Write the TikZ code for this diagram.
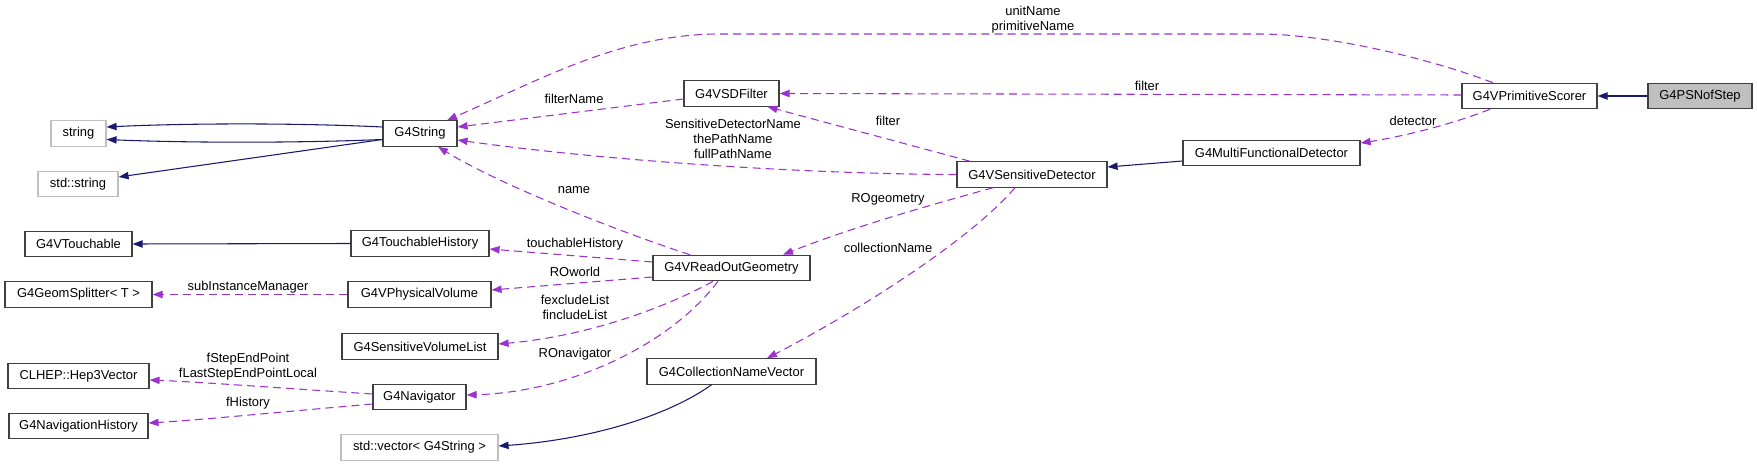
\documentclass[tikz,border=0pt]{standalone}
\usepackage{fontspec}
\setmainfont{Liberation Sans}
\usepackage{tikz}
\usetikzlibrary{arrows.meta, positioning, calc}
\definecolor{usecol}{HTML}{9A32CD}
\definecolor{inhcol}{HTML}{191970}
\definecolor{extcol}{HTML}{BFBFBF}
\definecolor{boxcol}{HTML}{404040}
\tikzset{
  cls/.style={draw=boxcol, line width=0.9pt, fill=white, inner sep=0pt,
    minimum height=19pt, font=\fontsize{9.7}{11.6}\selectfont},
  extcls/.style={cls, draw=extcol},
  selfcls/.style={cls, fill=extcol},
  lbl/.style={inner sep=0pt, align=center, font=\fontsize{9.7}{11.2}\selectfont},
  usage/.style={draw=usecol, line width=0.8pt, dash pattern=on 6pt off 3.8pt,
    -{Triangle[length=7.5pt, width=5.5pt, fill=usecol]}},
  inherit/.style={draw=inhcol, line width=0.8pt,
    -{Triangle[length=7.5pt, width=5.5pt, fill=inhcol]}}
}
\begin{document}
\begin{tikzpicture}[x=0.75pt, y=-0.75pt]
        \useasboundingbox (0,0) rectangle (1757,467);

        % ── LEFT COLUMN ────────────────────────────
        \node[extcls, minimum width=41.25pt] (string) at (78.5,133.5) {string};
        \node[extcls, minimum width=60pt] (stdstring) at (78,184) {std::string};
        \node[cls, minimum width=80.25pt] (touch) at (78.5,244) {G4VTouchable};
        \node[cls, minimum width=110.25pt] (splitter) at (78.5,294.5) {G4GeomSplitter< T >};
        \node[cls, minimum width=105.75pt] (hep) at (78.5,376) {CLHEP::Hep3Vector};
        \node[cls, minimum width=104.25pt] (navhist) at (78.5,426) {G4NavigationHistory};

        % ── SECOND COLUMN ──────────────────────────
        \node[cls, minimum width=55.5pt] (g4string) at (420,133.5) {G4String};
        \node[cls, minimum width=103.5pt] (touchhist) at (420,243.5) {G4TouchableHistory};
        \node[cls, minimum width=107.25pt] (physvol) at (419.5,294.5) {G4VPhysicalVolume};
        \node[cls, minimum width=117pt] (svlist) at (420,346.5) {G4SensitiveVolumeList};
        \node[cls, minimum width=69.75pt] (navigator) at (419.5,397) {G4Navigator};
        \node[extcls, minimum width=117.75pt] (stdvector) at (419.5,447.5) {std::vector< G4String >};

        % ── THIRD COLUMN ───────────────────────────
        \node[cls, minimum width=71.25pt] (sdfilter) at (731.5,93.5) {G4VSDFilter};
        \node[cls, minimum width=117.75pt] (rogeom) at (731.5,268) {G4VReadOutGeometry};
        \node[cls, minimum width=126.75pt] (cnvector) at (731.5,371.5) {G4CollectionNameVector};

        % ── RIGHT PART ─────────────────────────────
        \node[cls, minimum width=112.5pt] (sensdet) at (1032,174.5) {G4VSensitiveDetector};
        \node[cls, minimum width=132.75pt] (multidet) at (1271.5,153) {G4MultiFunctionalDetector};
        \node[cls, minimum width=101.25pt] (primscorer) at (1529.5,96) {G4VPrimitiveScorer};
        \node[selfcls, minimum width=78pt] (nofstep) at (1700,96) {G4PSNofStep};

        % ── INHERITANCE ────────────────────────────
        \draw[inherit] ($(g4string.west)+(0,-6.5)$) .. controls (300,123) and (190,123)
          .. ($(string.east)+(0,-6.5)$);
        \draw[inherit] ($(g4string.west)+(0,6)$) .. controls (300,143) and (190,143)
          .. ($(string.east)+(0,6)$);
        \draw[inherit] ($(g4string.west)+(0,6)$) -- ($(stdstring.east)+(0,-7)$);
        \draw[inherit] (touchhist.west) -- (touch.east);
        \draw[inherit] ($(cnvector.south)+(-20,0)$) .. controls (665,418) and (585,440)
          .. ($(stdvector.east)+(0,-1.5)$);
        \draw[inherit] ($(multidet.west)+(0,8)$) -- ($(sensdet.east)+(0,-7.5)$);
        \draw[inherit] (nofstep.west) -- (primscorer.east);

        % ── USAGE ──────────────────────────────────
        \draw[usage] (physvol.west) -- (splitter.east);
        \node[lbl] (l-subinst) at (248,287) {subInstanceManager};

        \draw[usage] ($(navigator.west)+(0,-3)$) .. controls (280,388) and (200,382)
          .. ($(hep.east)+(0,4)$);
        \node[lbl] (l-step) at (248,366.5) {fStepEndPoint\\fLastStepEndPointLocal};
        \draw[usage] ($(navigator.west)+(0,7)$) .. controls (280,412) and (200,420)
          .. ($(navhist.east)+(0,-3)$);
        \node[lbl] (l-hist) at (248,403) {fHistory};

        \draw[usage] ($(sdfilter.west)+(0,5.5)$) -- ($(g4string.east)+(0,-6.5)$);
        \node[lbl] (l-fname) at (574,99) {filterName};

        \draw[usage] (sensdet.west) .. controls (800,174) and (600,160)
          .. ($(g4string.east)+(0,6.5)$);
        \node[lbl] (l-sdname) at (733,139) {SensitiveDetectorName\\thePathName\\fullPathName};

        \draw[usage] ($(rogeom.north)+(-41.5,0)$) .. controls (620,232) and (500,185)
          .. ($(g4string.south)+(18,0)$);
        \node[lbl] (l-name) at (574,190) {name};

        \draw[usage] ($(primscorer.north)+(-36.5,0)$) .. controls (1420,55) and (1320,34)
          .. (1260,34) -- (720,34) .. controls (620,34) and (540,80)
          .. ($(g4string.north)+(27,0)$);
        \node[lbl] (l-unit) at (1033,19.5) {unitName\\primitiveName};

        \draw[usage] ($(primscorer.west)+(0,-1)$) -- (sdfilter.east);
        \node[lbl] (l-filter1) at (1147,86) {filter};

        \draw[usage] ($(sensdet.north)+(-62,0)$) -- ($(sdfilter.south)+(36,0)$);
        \node[lbl] (l-filter2) at (888,121) {filter};

        \draw[usage] ($(primscorer.south)+(-39.5,0)$) .. controls (1450,125) and (1400,137)
          .. ($(multidet.east)+(0,-10)$);
        \node[lbl] (l-det) at (1413,121) {detector};

        \draw[usage] ($(sensdet.south)+(-39,0)$) .. controls (930,205) and (850,228)
          .. ($(rogeom.north)+(51.5,0)$);
        \node[lbl] (l-rogeom) at (888,199) {ROgeometry};

        \draw[usage] ($(sensdet.south)+(-17,0)$) .. controls (970,240) and (860,310)
          .. ($(cnvector.north)+(35.5,0)$);
        \node[lbl] (l-coll) at (888,248) {collectionName};

        \draw[usage] ($(rogeom.west)+(0,-6)$) -- ($(touchhist.east)+(0,5.5)$);
        \node[lbl] (l-touch) at (575,244) {touchableHistory};

        \draw[usage] ($(rogeom.west)+(0,9)$) -- ($(physvol.east)+(0,-4.5)$);
        \node[lbl] (l-world) at (575,272) {ROworld};

        \draw[usage] ($(rogeom.south)+(-18.5,0)$) .. controls (680,300) and (600,335)
          .. ($(svlist.east)+(0,-2.5)$);
        \node[lbl] (l-list) at (575,307.5) {fexcludeList\\fincludeList};

        \draw[usage] ($(rogeom.south)+(-13.5,0)$) .. controls (670,345) and (570,392)
          .. ($(navigator.east)+(0,-2)$);
        \node[lbl] (l-nav) at (575,354) {ROnavigator};
      \end{tikzpicture}
\end{document}
